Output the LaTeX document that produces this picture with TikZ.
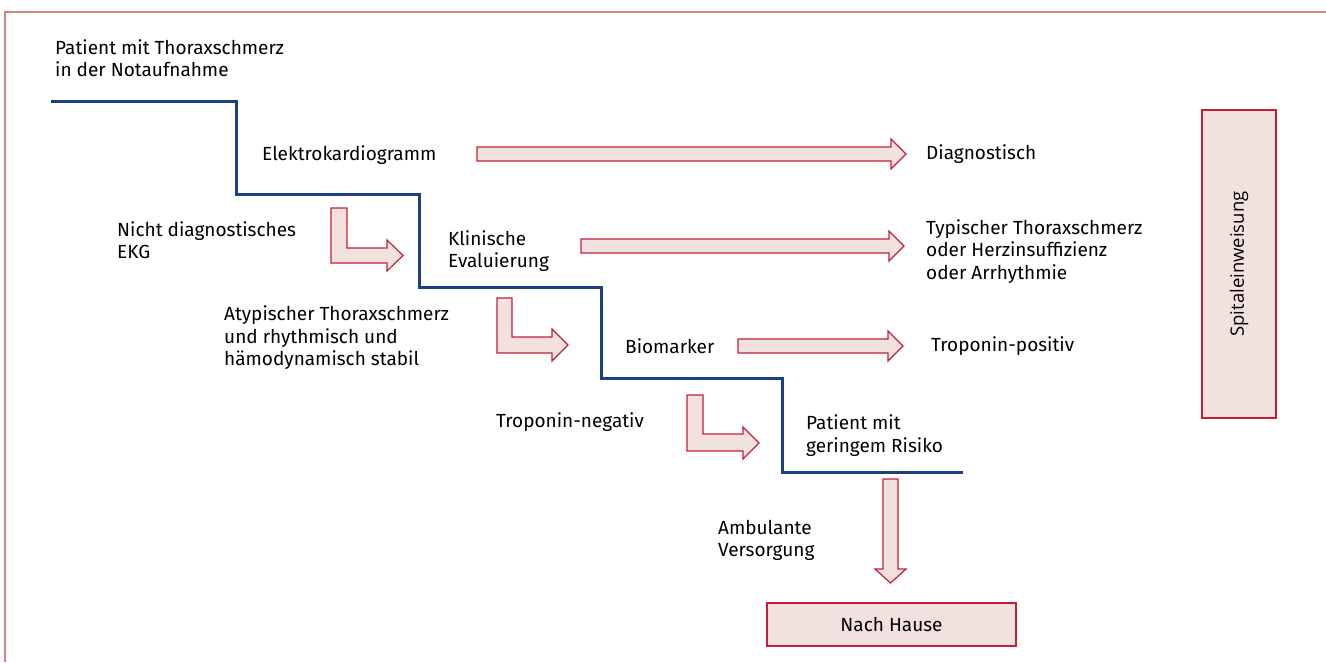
\documentclass[tikz,border=0pt]{standalone}
\usepackage{fontspec}
\setmainfont{Fira Sans}
\newfontfamily\spitalfont{Open Sans}
\usepackage{xcolor}

\definecolor{stairblue}{HTML}{1B3F80}
\definecolor{arrowred}{HTML}{C41E3A}
\definecolor{arrowfill}{HTML}{F2E2DF}
\definecolor{framered}{HTML}{D98088}

\begin{document}
\begin{tikzpicture}[x=1pt,y=-1pt,
    txt/.style={anchor=west,align=left,inner sep=0pt,font=\fontsize{19}{22.5}\selectfont},
    stair/.style={draw=stairblue,line width=3pt,line join=miter},
    blockarrow/.style={draw=arrowred,fill=arrowfill,line width=1.2pt,line join=miter},
    endbox/.style={draw=arrowred,fill=arrowfill,line width=1.2pt,inner sep=0pt}]
  \useasboundingbox (0,0) rectangle (1326,662);
  % frame, only top and left edge visible
  \draw[framered,line width=1.5pt] (1326,12) -- (5,12) -- (5,662);

  % the staircase
  \draw[stair] (51,101) -| (236,194) -| (419,287) -| (601,378) -| (782,472) -- (963,472);

  % steps
  \node[txt] (start) at (55,58) {Patient mit Thoraxschmerz\\in der Notaufnahme};
  \node[txt] (ekg) at (262,155) {Elektrokardiogramm};
  \node[txt] (klinik) at (448,251) {Klinische\\Evaluierung};
  \node[txt] (bio) at (625,346) {Biomarker};
  \node[txt] (risiko) at (806,435.5) {Patient mit\\geringem Risiko};

  % conditions on the left
  \node[txt] (nichtdiag) at (117,240) {Nicht diagnostisches\\EKG};
  \node[txt] (atypisch) at (224,338) {Atypischer Thoraxschmerz\\und rhythmisch und\\hämodynamisch stabil};
  \node[txt] (tneg) at (496,422) {Troponin-negativ};
  \node[txt] (ambulant) at (718,540.5) {Ambulante\\Versorgung};

  % outcomes on the right
  \node[txt] (diag) at (926,154) {Diagnostisch};
  \node[txt] (typisch) at (926,251.5) {Typischer Thoraxschmerz\\oder Herzinsuffizienz\\oder Arrhythmie};
  \node[txt] (tpos) at (931,346) {Troponin-positiv};

  % end boxes
  \node[endbox,minimum width=249,minimum height=43,font=\fontsize{19}{22}\selectfont] (hause) at (891.5,624.5) {Nach Hause};
  \node[endbox,rotate=90,minimum width=308,minimum height=74,font=\spitalfont\fontsize{18.5}{22}\selectfont] (spital) at (1239,264) {Spitaleinweisung};

  % straight arrows to the right
  \draw[blockarrow] (477,147) -- (891,147) -- (891,139) -- (906,154) -- (891,169) -- (891,161) -- (477,161) -- cycle;
  \draw[blockarrow] (581,239) -- (889,239) -- (889,231) -- (904,246) -- (889,261) -- (889,253) -- (581,253) -- cycle;
  \draw[blockarrow] (738,339) -- (888,339) -- (888,331) -- (903,346) -- (888,361) -- (888,353) -- (738,353) -- cycle;

  % bent arrows down the stairs
  \draw[blockarrow] (331,208) -- (347,208) -- (347,248) -- (387,248) -- (387,240) -- (403,255.5) -- (387,271) -- (387,263) -- (331,263) -- cycle;
  \draw[blockarrow] (497,298) -- (512,298) -- (512,337) -- (552,337) -- (552,329) -- (568,345) -- (552,361) -- (552,353) -- (497,353) -- cycle;
  \draw[blockarrow] (687,395) -- (703,395) -- (703,434) -- (743,434) -- (743,427) -- (759,443) -- (743,459) -- (743,451) -- (687,451) -- cycle;

  % down to Nach Hause
  \draw[blockarrow] (883,479) -- (898,479) -- (898,569) -- (906,569) -- (890.5,583) -- (875,569) -- (883,569) -- cycle;
\end{tikzpicture}
\end{document}
